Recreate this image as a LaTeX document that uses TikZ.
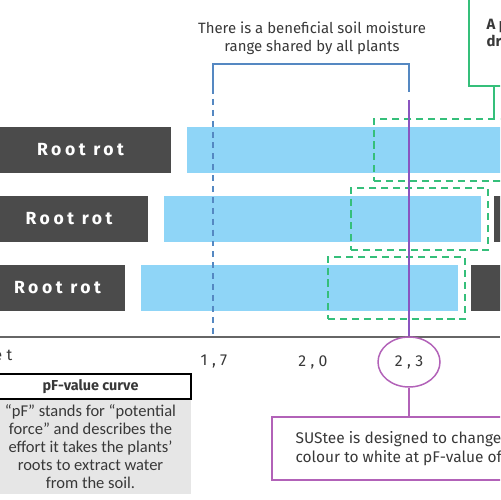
\documentclass[tikz,border=0pt]{standalone}
\usepackage{fontspec}
\setmainfont{Fira Sans}
\newfontfamily\spacedfont[LetterSpace=20]{Fira Sans}
\newfontfamily\tickfont[LetterSpace=28]{Fira Sans}
\newfontfamily\notefont{Carlito}
\usetikzlibrary{shapes.geometric}
\definecolor{cdark}{HTML}{4B4B4B}
\definecolor{cblue}{HTML}{8FD5F7}
\definecolor{cgreen}{HTML}{35BF7A}
\definecolor{csteel}{HTML}{5588C2}
\definecolor{cpurple}{HTML}{B262B8}
\definecolor{cviolet}{HTML}{8A55C0}
\definecolor{cpaper}{HTML}{E6E6E6}
\definecolor{cink}{HTML}{383838}
\tikzset{
  every picture/.style={font=\fontsize{8.5}{10.2}\selectfont, line width=0.85pt, text=cink},
  rot/.style={fill=cdark, text=white, font=\spacedfont\bfseries\fontsize{10}{12}\selectfont, minimum height=0.92cm, inner sep=0pt},
  bar/.style={fill=cblue, minimum height=0.92cm, minimum width=6.34cm, inner sep=0pt},
  zone/.style={draw=cgreen, dash pattern=on 4pt off 2.8pt, line width=1.1pt, minimum height=1.24cm, minimum width=2.74cm, inner sep=0pt},
  bracket/.style={draw=csteel, line width=0.85pt},
  tick/.style={font=\tickfont\fontsize{9}{11}\selectfont, text=cink},
}
\begin{document}
\begin{tikzpicture}[x=0.02cm, y=-0.02cm,
  gline/.style={draw=cgreen, line width=1pt},
  pline/.style={draw=#1, line width=0.85pt},
  pline/.default=cpurple,
  pfhead/.style={draw=black, fill=white, line width=0.75pt, minimum width=4.02cm, minimum height=0.5cm, inner sep=0pt, font=\bfseries\fontsize{8.2}{9}\selectfont},
  pfnote/.style={fill=cpaper, minimum width=4.02cm, minimum height=1.9cm, inner sep=0pt, align=center, font=\notefont\fontsize{9.4}{10.2}\selectfont}]
  \useasboundingbox (0,0) rectangle (500,500);
  \clip (0,0) rectangle (500,500);
  \foreach \n/\y/\s in {1/150/0, 2/219/23, 3/288/46} {
    \node[bar] (bar\n) at (345.5-\s,\y) {};
    \node[rot, minimum width=(181-\s)*0.02cm] (rot\n) at (80.5-\s/2,\y) {Root rot};
    \node[rot, minimum width=1.2cm] (dry\n) at (547-\s,\y) {};
    \node[zone] (zone\n) at (442.5-\s,\y) {};
  }
  \node[align=center] (rangetxt) at (312,38) {There is a beneficial soil moisture\\range shared by all plants};
  \coordinate (bl) at (213,88);
  \coordinate (br) at (409,92);
  \coordinate (a0) at (0,337);
  \coordinate (a1) at (500,337);
  \draw[bracket] (bl) -- ++(0,-24) -| (br);
  \draw[bracket, dash pattern=on 3.4pt off 2.8pt] (bl) -- (bl |- a0);
  \draw[draw=black!60, line width=0.8pt] (a0) -- (a1);
  \node[tick, anchor=east] (wet) at (19,355) {Wet};
  \node[tick] (t17) at (214,362) {1,7};
  \node[tick] (t20) at (313,362) {2,0};
  \node[tick, ellipse, draw=cpurple, line width=0.85pt, minimum width=1.24cm, minimum height=1cm, inner sep=0pt] (t23) at (409,362) {2,3};
  \coordinate (ptop) at (409,100);
  \draw[pline=cviolet] (ptop) -- (t23.north);
  \node[draw=cgreen, line width=1pt, minimum width=1cm, minimum height=1.92cm, inner sep=0pt] (gtop) at (494,38) {};
  \node[anchor=west, align=left, font=\bfseries\fontsize{8.5}{10.2}\selectfont] (gtxt) at (480,34) {A preferred\\drying zone};
  \draw[gline] (gtop.south) -- (gtop.south |- zone1.north);
  \node[pfnote] (pfnote) at (90.5,446.5) {“pF” stands for “potential\\force” and describes the\\effort it takes the plants’\\roots to extract water\\from the soil.};
  \node[pfhead] (pfhead) at (90.5,386.5) {pF-value curve};
  \node[draw=cpurple, line width=1pt, minimum width=4.96cm, minimum height=1.26cm, inner sep=0pt] (sus) at (396,448.5) {};
  \node[anchor=west, align=left, font=\fontsize{8.8}{10.8}\selectfont] (sustxt) at (289,448.5) {SUStee is designed to change\\colour to white at pF-value of 2,3.};
  \draw[pline] (t23.south) -- (t23.south |- sus.north);
\end{tikzpicture}
\end{document}
